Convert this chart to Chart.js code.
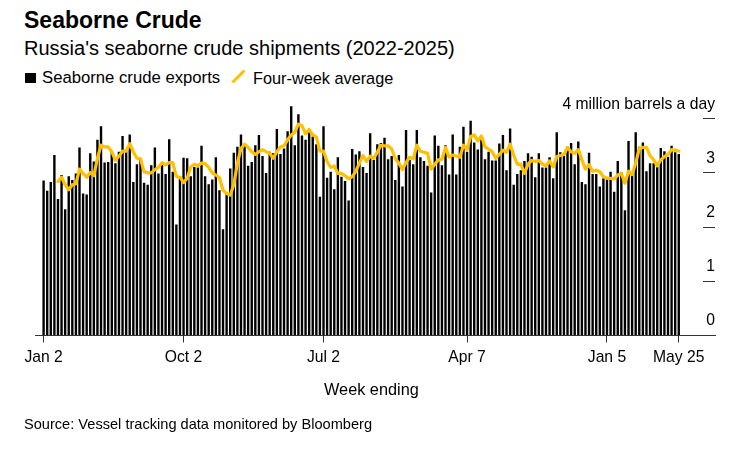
<!DOCTYPE html>
<html>
<head>
<meta charset="utf-8">
<script src="https://cdn.jsdelivr.net/npm/chart.js@4/dist/chart.umd.min.js"></script>
<style>
  html, body { margin: 0; padding: 0; background: #fff; }
  body { width: 747px; height: 453px; position: relative; overflow: hidden; font-family: "Liberation Sans", sans-serif; color: #000; }
  canvas { position: absolute; left: 0; top: 0; }
  .txt { position: absolute; white-space: nowrap; }
  #title { left: 24px; top: 6px; font-size: 23px; line-height: 28px; font-weight: bold; }
  #subtitle { left: 24px; top: 36px; font-size: 20px; line-height: 24px; }
  #source { left: 24px; top: 416px; font-size: 14.6px; line-height: 17px; }
  #axisTitle { left: 324px; top: 380px; font-size: 16.3px; line-height: 18px; }
  .leg { top: 68px; font-size: 16.7px; line-height: 20px; }
  #swatch { position: absolute; left: 25px; top: 73px; width: 11px; height: 10px; background: #000; }
  #lineSwatch { position: absolute; left: 230px; top: 75px; width: 17px; height: 3px; background: #ffc000; transform: rotate(-45deg); }
</style>
</head>
<body>
<div class="txt" id="title">Seaborne Crude</div>
<div class="txt" id="subtitle">Russia's seaborne crude shipments (2022-2025)</div>
<div id="swatch"></div>
<div class="txt leg" style="left:42px">Seaborne crude exports</div>
<div id="lineSwatch"></div>
<div class="txt leg" style="left:253px;font-size:16.3px">Four-week average</div>
<canvas id="chart" width="747" height="453"></canvas>
<div class="txt" id="axisTitle">Week ending</div>
<div class="txt" id="source">Source: Vessel tracking data monitored by Bloomberg</div>
<script>
// week positions of the x axis labels (0 = first week in the data)
const tickWeeks = [0, 39, 78, 118, 157, 177];
const tickLabels = ["Jan 2", "Oct 2", "Jul 2", "Apr 7", "Jan 5", "May 25"];

// million barrels a day, one per week
const exportValues = [
  2.86, 2.67, 2.83, 3.33, 2.52, 2.96, 2.33, 2.94, 2.87, 2.99, 3.47, 2.62, 2.60, 3.36, 3.21, 3.61, 3.86, 3.19, 3.20, 3.39,
  3.18, 3.39, 3.68, 3.39, 3.71, 2.83, 3.16, 3.27, 2.82, 2.78, 3.14, 3.47, 2.99, 3.16, 2.98, 3.62, 3.02, 2.05, 2.94, 3.28,
  3.27, 2.94, 3.11, 3.10, 3.50, 2.94, 2.79, 2.88, 3.29, 2.68, 1.96, 2.62, 3.08, 3.37, 3.48, 3.71, 3.51, 3.13, 3.20, 3.51,
  3.70, 3.31, 3.00, 3.39, 3.36, 3.81, 3.35, 3.45, 3.77, 4.23, 3.51, 4.08, 3.69, 3.61, 3.75, 3.67, 3.53, 2.56, 3.86, 2.91,
  3.02, 2.70, 3.29, 2.93, 2.85, 2.49, 3.44, 3.34, 3.40, 3.11, 3.00, 3.73, 3.24, 3.53, 3.55, 3.65, 3.25, 3.31, 2.87, 3.33,
  2.75, 3.79, 3.24, 3.16, 3.79, 3.29, 3.22, 3.13, 2.64, 3.69, 3.50, 3.14, 3.51, 2.97, 3.71, 2.97, 3.48, 3.85, 3.39, 3.96,
  3.56, 3.43, 3.67, 3.25, 3.39, 3.23, 3.23, 3.54, 3.70, 3.05, 3.82, 2.78, 2.98, 3.05, 3.22, 3.36, 3.30, 2.92, 3.36, 3.10,
  3.10, 3.29, 2.90, 3.75, 3.38, 3.31, 3.48, 3.55, 3.16, 3.58, 2.83, 2.79, 3.37, 2.98, 2.98, 2.75, 2.90, 2.90, 3.02, 2.65,
  3.22, 3.01, 2.31, 3.59, 2.96, 3.75, 3.48, 3.56, 3.03, 3.18, 3.18, 3.11, 3.46, 3.40, 3.30, 3.50, 3.38, 3.35
];

// the average only starts once a few weeks of data are in
const averageValues = [
  null, null, null, null,
  2.84, 2.92, 2.78, 2.69, 2.78, 2.80, 3.07, 2.99, 2.92, 3.01, 2.95, 3.27, 3.51, 3.48, 3.48, 3.39,
  3.23, 3.31, 3.40, 3.40, 3.54, 3.39, 3.27, 3.26, 3.02, 3.00, 3.00, 3.06, 3.10, 3.19, 3.15, 3.19,
  3.19, 2.93, 2.92, 2.82, 2.90, 3.11, 3.16, 3.13, 3.18, 3.17, 3.10, 3.00, 2.96, 2.91, 2.68, 2.62,
  2.59, 2.78, 3.18, 3.45, 3.53, 3.47, 3.39, 3.34, 3.39, 3.43, 3.39, 3.36, 3.27, 3.39, 3.48, 3.50,
  3.61, 3.70, 3.75, 3.90, 3.87, 3.72, 3.80, 3.70, 3.66, 3.40, 3.40, 3.21, 3.10, 3.13, 2.99, 2.99,
  2.95, 2.89, 2.93, 3.03, 3.18, 3.32, 3.21, 3.31, 3.27, 3.38, 3.51, 3.50, 3.50, 3.44, 3.26, 3.18,
  3.06, 3.19, 3.29, 3.26, 3.51, 3.40, 3.38, 3.36, 3.07, 3.16, 3.24, 3.25, 3.47, 3.29, 3.33, 3.31,
  3.29, 3.51, 3.43, 3.67, 3.70, 3.59, 3.68, 3.48, 3.44, 3.39, 3.27, 3.34, 3.42, 3.38, 3.53, 3.33,
  3.16, 3.16, 2.99, 3.16, 3.23, 3.21, 3.23, 3.16, 3.13, 3.22, 3.11, 3.30, 3.32, 3.34, 3.47, 3.39,
  3.36, 3.43, 3.24, 3.07, 3.15, 3.03, 3.05, 3.02, 2.93, 2.90, 2.90, 2.89, 2.96, 2.99, 2.81, 3.03,
  2.97, 3.18, 3.45, 3.47, 3.47, 3.32, 3.24, 3.13, 3.24, 3.30, 3.34, 3.43, 3.42, 3.40
];

const AXIS_FONT = { family: '"Liberation Sans", sans-serif', size: 15.7 };

new Chart(document.getElementById('chart'), {
  data: {
    datasets: [
      {
        type: 'line',
        label: 'Four-week average',
        data: averageValues.map((v, i) => ({ x: i, y: v })),
        borderColor: '#ffc000',
        borderWidth: 3.2,
        borderJoinStyle: 'round',
        borderCapStyle: 'round',
        pointRadius: 0,
        tension: 0,
        order: 0
      },
      {
        type: 'bar',
        label: 'Seaborne crude exports',
        data: exportValues.map((v, i) => ({ x: i, y: v })),
        backgroundColor: '#000',
        barThickness: 2.4,
        inflateAmount: 0,
        order: 1
      }
    ]
  },
  options: {
    responsive: false,
    animation: false,
    layout: { padding: { left: 35, right: 32, top: 97, bottom: 77.5 } },
    plugins: { legend: { display: false }, tooltip: { enabled: false } },
    scales: {
      x: {
        type: 'linear',
        offset: false,
        min: -2.4,
        max: 187.1,
        afterBuildTicks: scale => { scale.ticks = tickWeeks.map(w => ({ value: w })); },
        afterFit: scale => { scale.height = 40; },
        grid: { offset: false, drawOnChartArea: false, tickLength: 7, color: '#333' },
        border: { color: '#333' },
        ticks: {
          autoSkip: false,
          maxRotation: 0,
          padding: 6,
          color: '#000',
          font: AXIS_FONT,
          callback: value => tickLabels[tickWeeks.indexOf(value)]
        }
      },
      y: {
        position: 'right',
        min: 0,
        max: 4.4,
        afterFit: scale => { scale.width = 0; },
        grid: { drawOnChartArea: false, tickLength: -12, color: '#333' },
        border: { display: false },
        ticks: {
          stepSize: 1,
          includeBounds: false,
          mirror: true,
          padding: 0,
          labelOffset: -14.5,
          color: '#000',
          font: AXIS_FONT,
          callback: value => value === 4 ? '4 million barrels a day' : String(value)
        }
      }
    }
  }
});
</script>
</body>
</html>
